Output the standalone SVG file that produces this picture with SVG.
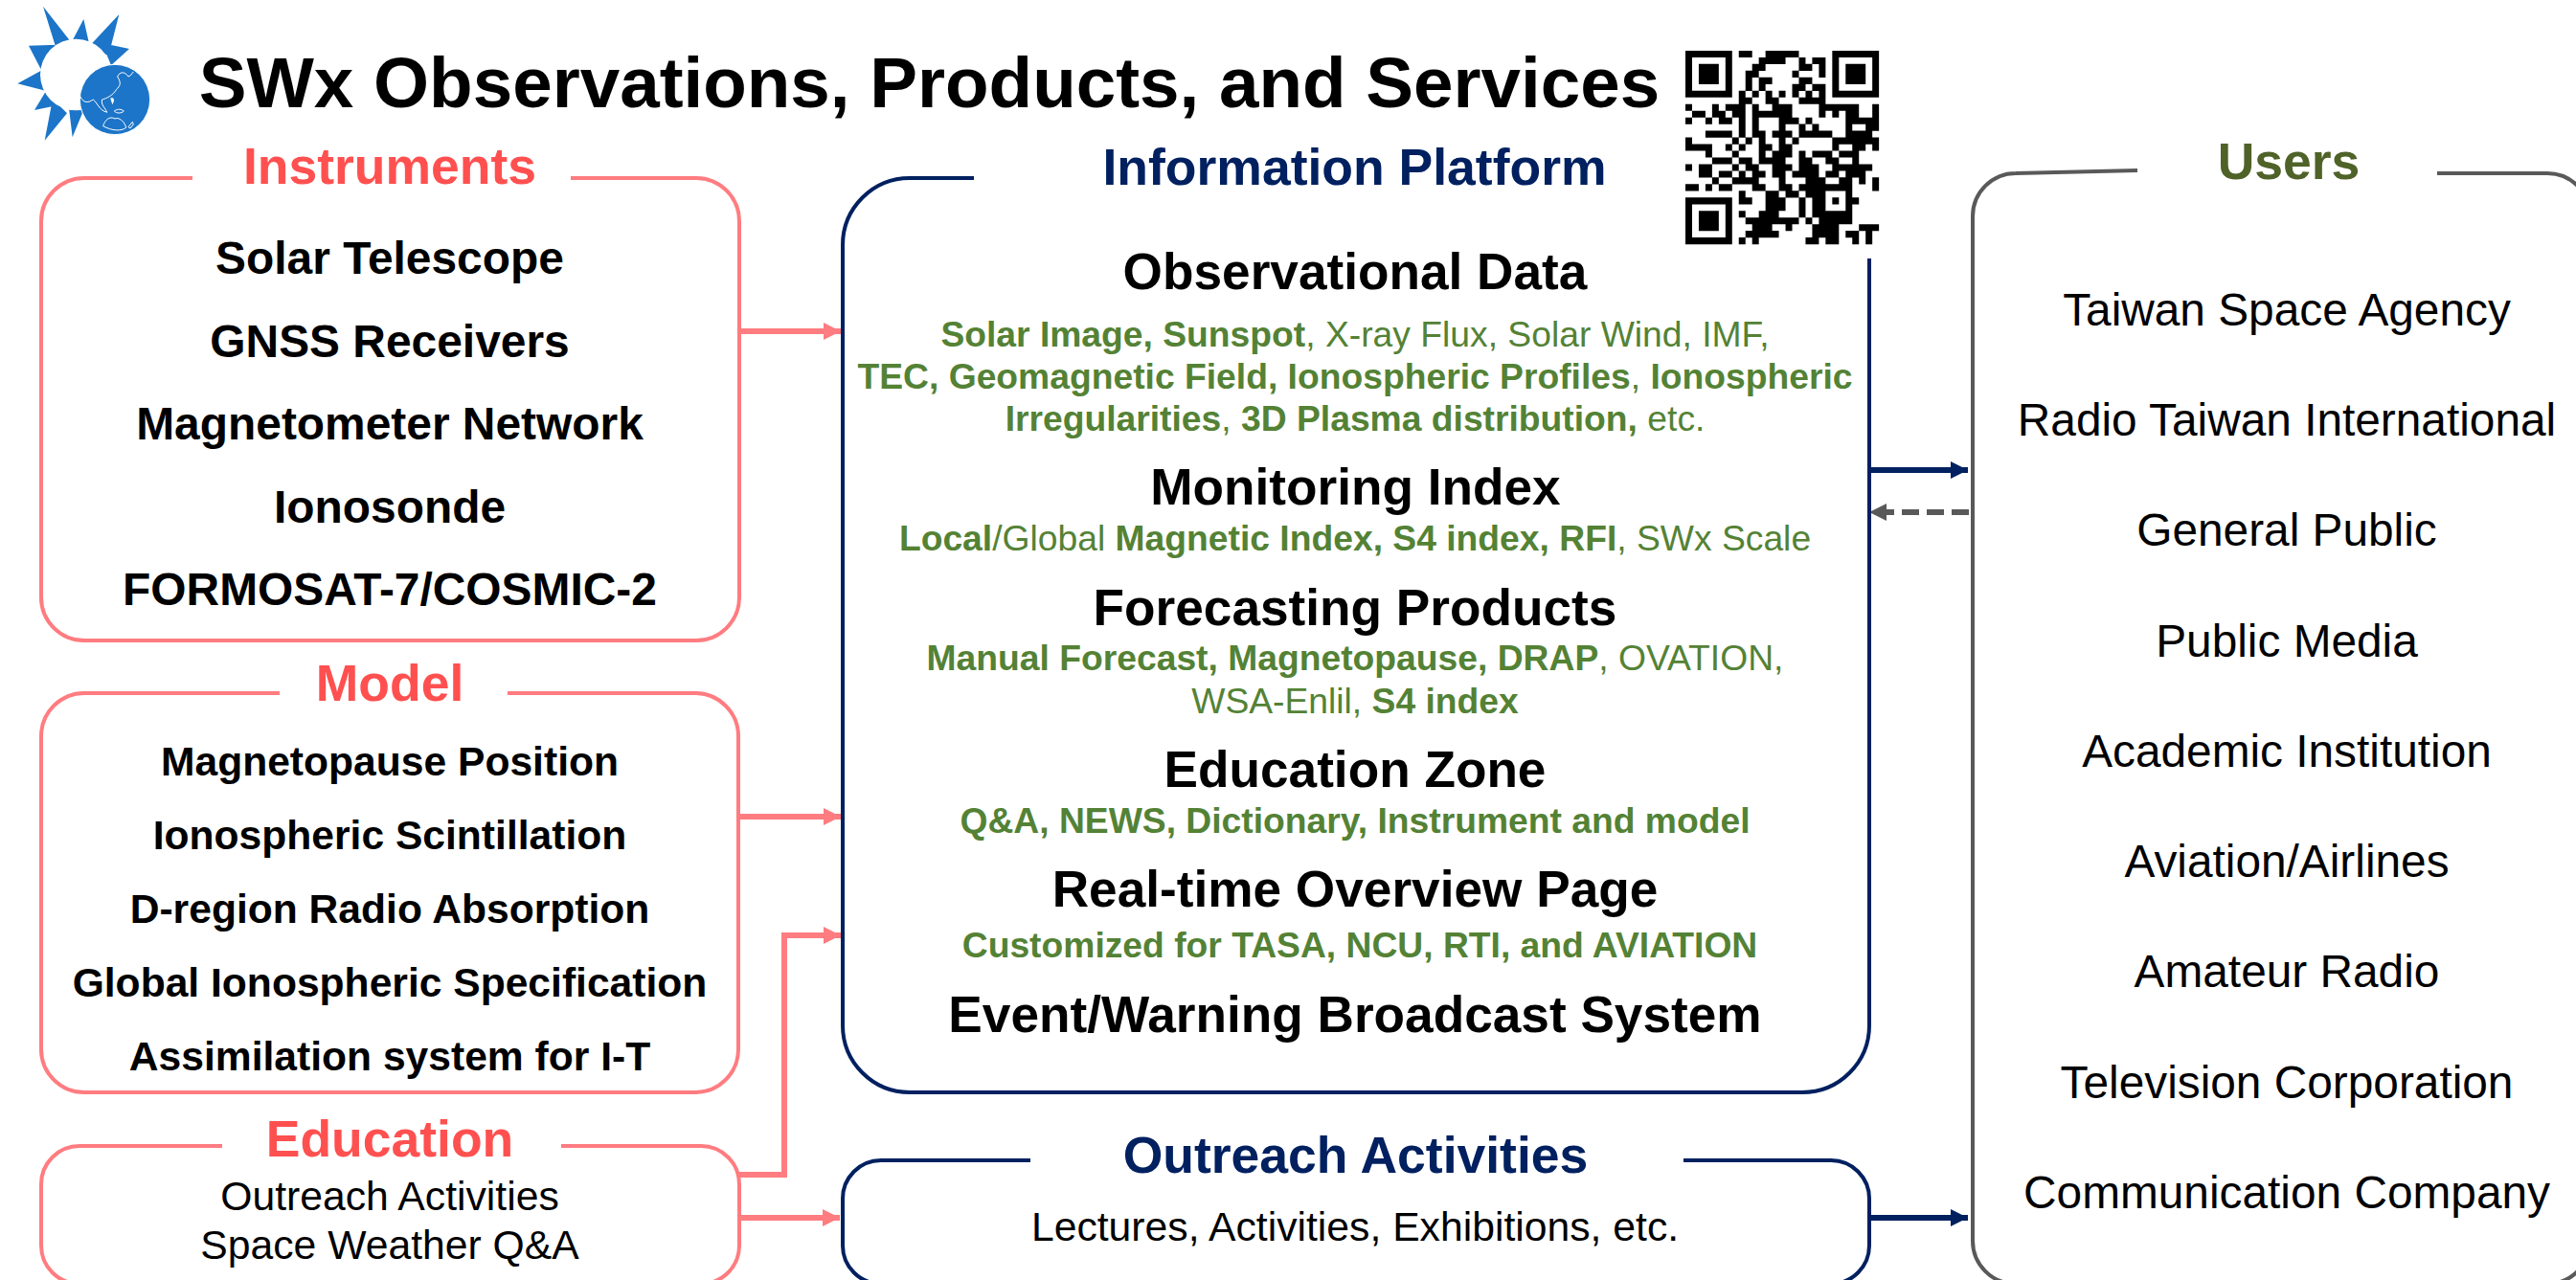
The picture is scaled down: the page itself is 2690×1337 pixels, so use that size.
<svg xmlns="http://www.w3.org/2000/svg" width="2690" height="1337" viewBox="0 0 2690 1337">
<style>
text{font-family:"Liberation Sans",Arial,sans-serif;text-anchor:middle}
.t{font-size:74.6px;font-weight:700}
.h{font-size:53.2px;font-weight:700}
.pink{fill:#FF5050;font-size:53.5px}.navy{fill:#002060;font-size:53.5px}.olive{fill:#4F6228;font-size:53.5px}
.i1{font-size:47.9px;font-weight:700}
.i2{font-size:42.6px;font-weight:700}
.p{font-size:42.7px}
.u{font-size:47.8px}
.g{font-size:37.25px;fill:#548235}
.g tspan{font-weight:700}
.box{fill:none;stroke-width:4}
.bp{stroke:#FF7C80}.bn{stroke:#002060}.bg{stroke:#595959}
.c{fill:none;stroke-width:6}
.logo{fill:#1C75C8}
.coast{fill:none;stroke:#fff;stroke-width:3;stroke-linejoin:round}
</style>
<defs>
<marker id="ap" markerUnits="userSpaceOnUse" markerWidth="18" markerHeight="20" refX="18" refY="10" orient="auto"><path d="M0 1L18 10L0 19Z" fill="#FF7C80"/></marker>
<marker id="an" markerUnits="userSpaceOnUse" markerWidth="18" markerHeight="20" refX="18" refY="10" orient="auto"><path d="M0 1L18 10L0 19Z" fill="#002060"/></marker>
<marker id="ag" markerUnits="userSpaceOnUse" markerWidth="18" markerHeight="20" refX="18" refY="10" orient="auto"><path d="M0 1L18 10L0 19Z" fill="#595959"/></marker>
</defs>
<rect width="2690" height="1337" fill="#fff"/>

<g id="logo" transform="translate(10 0) scale(.3333)">
<path class="logo" d="M105 20L150 165L195 135ZM232 60L190 140L250 140ZM343 45L250 145L310 175ZM375 153L290 135L318 205ZM60 143L150 140L105 230ZM25 262L110 215L115 285ZM78 345L120 275L150 330ZM110 440L135 310L180 355ZM197 430L185 330L232 345Z"/>
<circle cx="208" cy="234" r="112" fill="#fff"/>
<circle cx="330" cy="312" r="110" class="logo" stroke="#fff" stroke-width="3"/>
<path class="coast" d="M222 303C232 325 248 322 262 312C275 322 280 345 305 352C302 340 285 330 290 312C305 308 325 298 335 280C345 270 352 262 338 240C345 225 360 222 372 240C380 238 384 230 388 225"/>
<path class="coast" d="M293 395C298 378 312 362 330 372C345 365 362 385 365 400C350 412 320 410 293 395Z"/>
<path class="coast" d="M328 348C340 340 350 342 358 348C350 356 335 356 328 348ZM372 398L385 382L388 390L378 402Z"/>
<path d="M316 308C325 304 332 310 322 328Z" fill="#fff"/>
</g>

<text id="title" class="t" x="970.5" y="112">SWx Observations, Products, and Services</text>

<g id="qr" transform="translate(1760 53) scale(6.97)">
<rect x="-.5" y="-.5" width="30" height="30" fill="#fff"/>
<path fill="none" stroke="#000" stroke-width="1.02" d="M0 .5H7M8 .5H10M12 .5H17M22 .5H29
M0 1.5H1M6 1.5H7M11 1.5H15M17 1.5H18M19 1.5H21M22 1.5H23M28 1.5H29
M0 2.5H1M2 2.5H5M6 2.5H7M10 2.5H12M17 2.5H19M20 2.5H21M22 2.5H23M24 2.5H27M28 2.5H29
M0 3.5H1M2 3.5H5M6 3.5H7M9 3.5H11M16 3.5H17M20 3.5H21M22 3.5H23M24 3.5H27M28 3.5H29
M0 4.5H1M2 4.5H5M6 4.5H7M9 4.5H10M11 4.5H13M17 4.5H19M22 4.5H23M24 4.5H27M28 4.5H29
M0 5.5H1M6 5.5H7M9 5.5H10M11 5.5H12M16 5.5H18M19 5.5H21M22 5.5H23M28 5.5H29
M0 6.5H7M8 6.5H9M10 6.5H11M12 6.5H13M14 6.5H15M16 6.5H17M18 6.5H19M20 6.5H21M22 6.5H29
M8 7.5H10M12 7.5H14M17 7.5H21
M0 8.5H1M4 8.5H5M6 8.5H9M10 8.5H11M13 8.5H16M20 8.5H26M28 8.5H29
M1 9.5H3M4 9.5H6M7 9.5H9M10 9.5H16M20 9.5H21M22 9.5H23M24 9.5H26M28 9.5H29
M0 10.5H1M3 10.5H4M5 10.5H7M8 10.5H9M10 10.5H11M14 10.5H17M18 10.5H19M24 10.5H29
M8 11.5H9M10 11.5H11M14 11.5H15M17 11.5H18M19 11.5H20M24 11.5H25M27 11.5H29
M3 12.5H7M8 12.5H9M10 12.5H12M13 12.5H16M17 12.5H22M24 12.5H28
M0 13.5H1M7 13.5H8M9 13.5H10M11 13.5H12M14 13.5H15M16 13.5H17M22 13.5H29
M0 14.5H4M6 14.5H7M8 14.5H9M11 14.5H13M14 14.5H16M22 14.5H23M25 14.5H27M28 14.5H29
M3 15.5H4M7 15.5H8M11 15.5H12M13 15.5H16M17 15.5H18M19 15.5H22M23 15.5H26
M4 16.5H7M8 16.5H10M11 16.5H15M17 16.5H19M21 16.5H23M25 16.5H26
M0 17.5H1M2 17.5H4M7 17.5H8M9 17.5H11M13 17.5H16M17 17.5H20M22 17.5H28
M2 18.5H4M5 18.5H7M8 18.5H9M10 18.5H12M13 18.5H15M16 18.5H20M21 18.5H23M24 18.5H27
M4 19.5H5M7 19.5H11M14 19.5H15M18 19.5H21M23 19.5H25M26 19.5H27M28 19.5H29
M0 20.5H2M3 20.5H4M5 20.5H7M10 20.5H12M14 20.5H16M17 20.5H25M28 20.5H29
M8 21.5H9M12 21.5H14M15 21.5H17M18 21.5H21M24 21.5H25
M0 22.5H7M8 22.5H10M12 22.5H15M17 22.5H18M19 22.5H21M22 22.5H23M24 22.5H26
M0 23.5H1M6 23.5H7M12 23.5H15M17 23.5H18M19 23.5H21M24 23.5H25
M0 24.5H1M2 24.5H5M6 24.5H7M8 24.5H9M11 24.5H14M17 24.5H18M19 24.5H25
M0 25.5H1M2 25.5H5M6 25.5H7M9 25.5H17M18 25.5H19M20 25.5H25
M0 26.5H1M2 26.5H5M6 26.5H7M10 26.5H13M15 26.5H16M19 26.5H23M26 26.5H29
M0 27.5H1M6 27.5H7M9 27.5H14M19 27.5H23M24 27.5H26M27 27.5H28
M0 28.5H7M8 28.5H9M10 28.5H11M18 28.5H20M21 28.5H23M25 28.5H26M27 28.5H28"/>
</g>

<g id="connectors">
<path class="c bp" marker-end="url(#ap)" d="M772 346H878"/>
<path class="c bp" marker-end="url(#ap)" d="M772 853H878"/>
<path class="c bp" marker-end="url(#ap)" d="M772 1227H819V977H878"/>
<path class="c bp" marker-end="url(#ap)" d="M772 1272H877"/>
<path class="c bn" marker-end="url(#an)" d="M1952 491H2055"/>
<path class="c bg" stroke-dasharray="18 8" marker-end="url(#ag)" d="M2056 535H1952"/>
<path class="c bn" marker-end="url(#an)" d="M1952 1272H2055"/>
</g>

<g id="instruments">
<path class="box bp" d="M201 186H88A45 45 0 0 0 43 231V624A45 45 0 0 0 88 669H727A45 45 0 0 0 772 624V231A45 45 0 0 0 727 186H596"/>
<text class="h pink" x="407" y="192">Instruments</text>
<text class="i1" x="407" y="286">Solar Telescope</text>
<text class="i1" x="407" y="373">GNSS Receivers</text>
<text class="i1" x="407" y="459">Magnetometer Network</text>
<text class="i1" x="407" y="546">Ionosonde</text>
<text class="i1" x="407" y="632">FORMOSAT-7/COSMIC-2</text>
</g>

<g id="model">
<path class="box bp" d="M292 724H88A45 45 0 0 0 43 769V1096A45 45 0 0 0 88 1141H727A45 45 0 0 0 771 1096V769A45 45 0 0 0 727 724H530"/>
<text class="h pink" x="407" y="732">Model</text>
<text class="i2" x="407" y="810">Magnetopause Position</text>
<text class="i2" x="407" y="887">Ionospheric Scintillation</text>
<text class="i2" x="407" y="964">D-region Radio Absorption</text>
<text class="i2" x="407" y="1041">Global Ionospheric Specification</text>
<text class="i2" x="407" y="1118">Assimilation system for I-T</text>
</g>

<g id="education">
<path class="box bp" d="M232 1197H83A40 40 0 0 0 43 1237V1301A40 40 0 0 0 83 1341H732A40 40 0 0 0 772 1301V1237A40 40 0 0 0 732 1197H586"/>
<text class="h pink" x="407" y="1208">Education</text>
<text class="p" x="407" y="1264">Outreach Activities</text>
<text class="p" x="407" y="1315">Space Weather Q&amp;A</text>
</g>

<g id="platform">
<path class="box bn" d="M1017 186H950A70 70 0 0 0 880 256V1071A70 70 0 0 0 950 1141H1882A70 70 0 0 0 1952 1071V270"/>
<text class="h navy" x="1414.500" y="193">Information Platform</text>
<text class="h" x="1415" y="302">Observational Data</text>
<text class="g" x="1415" y="362"><tspan>Solar Image, Sunspot</tspan>, X-ray Flux, Solar Wind, IMF,</text>
<text class="g" x="1415" y="406"><tspan>TEC, Geomagnetic Field, Ionospheric Profiles</tspan>, <tspan>Ionospheric</tspan></text>
<text class="g" x="1415" y="450"><tspan>Irregularities</tspan>, <tspan>3D Plasma distribution,</tspan> etc.</text>
<text class="h" x="1415.500" y="527">Monitoring Index</text>
<text class="g" x="1415" y="575"><tspan>Local</tspan>/Global <tspan>Magnetic Index, S4 index, RFI</tspan>, SWx Scale</text>
<text class="h" x="1415" y="653">Forecasting Products</text>
<text class="g" x="1415" y="700"><tspan>Manual Forecast, Magnetopause, DRAP</tspan>, OVATION,</text>
<text class="g" x="1415" y="745">WSA-Enlil, <tspan>S4 index</tspan></text>
<text class="h" x="1415" y="822">Education Zone</text>
<text class="g" x="1415" y="870"><tspan>Q&amp;A, NEWS, Dictionary, Instrument and model</tspan></text>
<text class="h" x="1415" y="947">Real-time Overview Page</text>
<text class="g" x="1420" y="1000"><tspan>Customized for TASA, NCU, RTI, and AVIATION</tspan></text>
<text class="h" x="1415" y="1078">Event/Warning Broadcast System</text>
</g>

<g id="outreach">
<path class="box bn" d="M1076 1212H920A40 40 0 0 0 880 1252V1301A40 40 0 0 0 920 1341H1912A40 40 0 0 0 1952 1301V1252A40 40 0 0 0 1912 1212H1758"/>
<text class="h navy" x="1415.500" y="1225">Outreach Activities</text>
<text class="p" x="1415" y="1296">Lectures, Activities, Exhibitions, etc.</text>
</g>

<g id="users">
<path class="box bg" d="M2232 178L2105 181A45 45 0 0 0 2060 226V1296A45 45 0 0 0 2105 1341H2660A45 45 0 0 0 2705 1296V226A45 45 0 0 0 2660 181H2545"/>
<text class="h olive" x="2390" y="187">Users</text>
<text class="u" x="2388" y="340">Taiwan Space Agency</text>
<text class="u" x="2388" y="455">Radio Taiwan International</text>
<text class="u" x="2388" y="570">General Public</text>
<text class="u" x="2388" y="686">Public Media</text>
<text class="u" x="2388" y="801">Academic Institution</text>
<text class="u" x="2388" y="916">Aviation/Airlines</text>
<text class="u" x="2388" y="1031">Amateur Radio</text>
<text class="u" x="2388" y="1147">Television Corporation</text>
<text class="u" x="2388" y="1262">Communication Company</text>
</g>
</svg>
